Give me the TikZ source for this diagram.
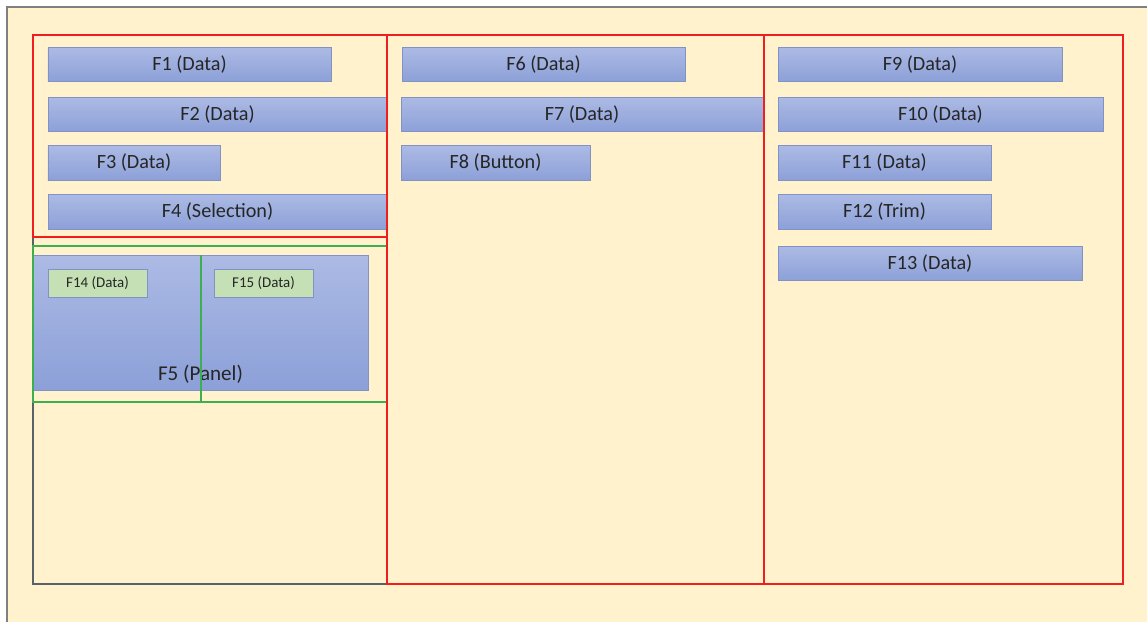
\documentclass[tikz,border=0pt]{standalone}
\usepackage{fontspec}
\setmainfont{Carlito}
\usetikzlibrary{positioning}

\definecolor{cream}{RGB}{255,242,204}
\definecolor{barTop}{RGB}{172,186,228}
\definecolor{barBot}{RGB}{140,160,216}
\definecolor{barLine}{RGB}{128,146,198}
\definecolor{subFill}{RGB}{197,224,180}
\definecolor{frameRed}{RGB}{240,30,30}
\definecolor{frameGreen}{RGB}{60,175,80}
\definecolor{frameGray}{RGB}{88,98,104}
\definecolor{txt}{RGB}{38,38,38}

\begin{document}
\begin{tikzpicture}[font=\fontsize{11.5}{13}\selectfont,
 bar/.style={draw=barLine,line width=0.4pt,top color=barTop,bottom color=barBot,
  inner sep=0pt,minimum height=0.69cm,text=txt},
 subbar/.style={draw=barLine,line width=0.4pt,fill=subFill,inner sep=0pt,
  minimum height=0.56cm,minimum width=1.98cm,text=txt,font=\fontsize{8.5}{10}\selectfont},
 panel/.style={bar,minimum width=6.70cm,minimum height=2.70cm},
 redframe/.style={draw=frameRed,line width=1.1pt},
 greenframe/.style={draw=frameGreen,line width=1.1pt}]
\useasboundingbox (0,0) rectangle (22.94,-12.44);
\fill[white] (0,0) rectangle (22.94,-12.44);
\fill[cream] (0.14,-0.14) rectangle (22.94,-12.44);
\draw[gray,line width=1.2pt] (0.14,-12.44) -- (0.14,-0.14) -- (22.94,-0.14);
% left column
\node[bar,minimum width=5.66cm] (f1) at (3.79,-1.29) {F1 (Data)};
\node[bar,minimum width=6.78cm] (f2) at (4.35,-2.29) {F2 (Data)};
\node[bar,minimum width=3.44cm] (f3) at (2.68,-3.26) {F3 (Data)};
\node[bar,minimum width=6.78cm] (f4) at (4.35,-4.24) {F4 (Selection)};
\node[panel] (f5) at (4.01,-6.45) {};
\node[above=0.02cm of f5.south,text=txt,font=\fontsize{12}{14}\selectfont] (f5lbl) {F5 (Panel)};
\node[subbar] (f14) at (1.95,-5.66) {F14 (Data)};
\node[subbar] (f15) at (5.27,-5.66) {F15 (Data)};
% middle column
\node[bar,minimum width=5.66cm] (f6) at (10.87,-1.29) {F6 (Data)};
\node[bar,minimum width=7.24cm] (f7) at (11.64,-2.29) {F7 (Data)};
\node[bar,minimum width=3.78cm] (f8) at (9.91,-3.26) {F8 (Button)};
% right column
\node[bar,minimum width=5.68cm] (f9) at (18.40,-1.29) {F9 (Data)};
\node[bar,minimum width=6.50cm] (f10) at (18.81,-2.29) {F10 (Data)};
\node[bar,minimum width=4.26cm] (f11) at (17.69,-3.26) {F11 (Data)};
\node[bar,minimum width=4.26cm] (f12) at (17.69,-4.24) {F12 (Trim)};
\node[bar,minimum width=6.08cm] (f13) at (18.60,-5.27) {F13 (Data)};
% frames
\draw[frameGray,line width=1.1pt] (0.66,-0.70) rectangle (7.74,-11.68);
\draw[redframe] (0.66,-0.70) rectangle (7.74,-4.74);
\draw[greenframe] (0.66,-4.92) rectangle (7.74,-8.04);
\draw[greenframe] (4.02,-5.10) -- (4.02,-8.04);
\draw[redframe] (7.74,-0.70) rectangle (15.28,-11.68);
\draw[redframe] (15.28,-0.70) rectangle (22.46,-11.68);
\end{tikzpicture}
\end{document}
